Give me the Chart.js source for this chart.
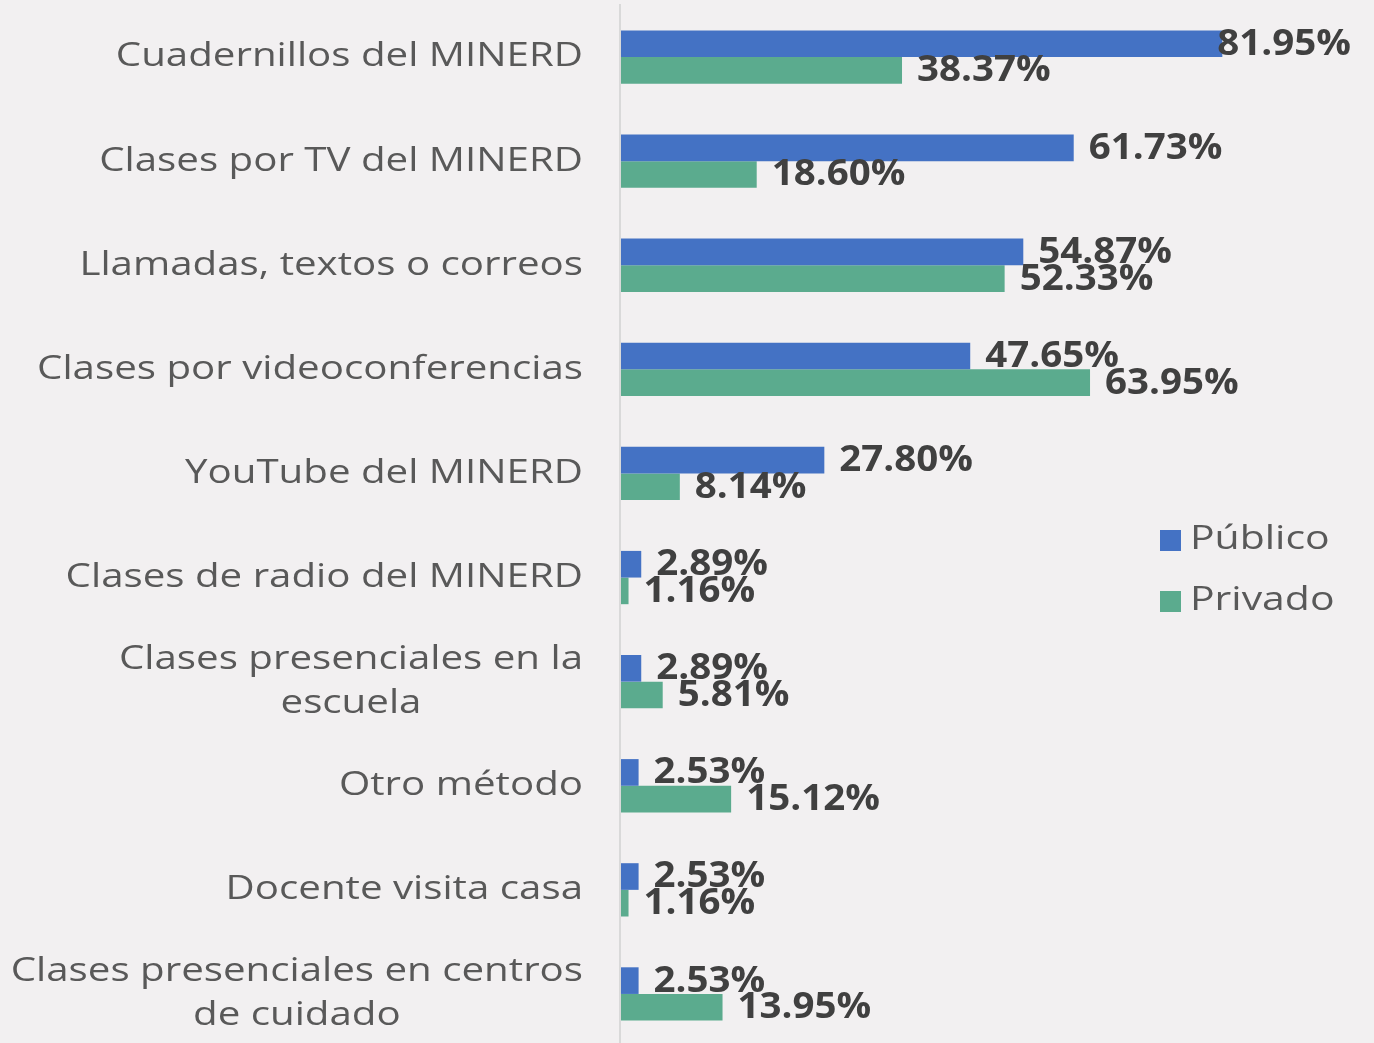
<!DOCTYPE html>
<html>
<head>
<meta charset="utf-8">
<script src="https://cdn.jsdelivr.net/npm/chart.js@4.4.0/dist/chart.umd.min.js"></script>
<style>
  html, body { margin: 0; padding: 0; background: #F2F0F1; overflow: hidden; }
  #wrap { width: 1374px; height: 1048px; position: relative; }
</style>
</head>
<body>
<div id="wrap"><canvas id="myChart" width="1374" height="1048"></canvas></div>
<script>
// Categorías (de arriba hacia abajo)
var categorias = [
    ['Cuadernillos del MINERD'],
    ['Clases por TV del MINERD'],
    ['Llamadas, textos o correos'],
    ['Clases por videoconferencias'],
    ['YouTube del MINERD'],
    ['Clases de radio del MINERD'],
    ['Clases presenciales en la', 'escuela'],
    ['Otro método'],
    ['Docente visita casa'],
    ['Clases presenciales en centros', 'de cuidado']
];

// Valores por sector (%)
var publico = [81.95, 61.73, 54.87, 47.65, 27.80, 2.89, 2.89, 2.53, 2.53, 2.53];
var privado = [38.37, 18.60, 52.33, 63.95, 8.14, 1.16, 5.81, 15.12, 1.16, 13.95];

var etiquetasSerie = ['Público', 'Privado'];
var colores = ['#4472C4', '#5BAB8E'];

var fuente = '"Open Sans", sans-serif';

// Texto estirado en horizontal (la fuente original es más ancha)
function textoAncho(ctx, txt, x, y, sx) {
    ctx.save();
    ctx.translate(x, y);
    ctx.scale(sx, 1);
    ctx.fillText(txt, 0, 0);
    ctx.restore();
}

// Etiquetas del eje Y dibujadas a mano (bloque alineado a la derecha, líneas centradas)
var ejeYPlugin = {
    id: 'ejeY',
    afterDraw: function(chart) {
        var ctx = chart.ctx;
        var y = chart.scales.y;
        var sx = 1.22;
        ctx.save();
        ctx.font = '33px ' + fuente;
        ctx.fillStyle = '#595959';
        ctx.textBaseline = 'middle';
        ctx.textAlign = 'center';
        var derecha = 583;
        var alto = 44;
        categorias.forEach(function(lineas, i) {
            var cy = y.getPixelForValue(i);
            var ancho = 0;
            lineas.forEach(function(l) { ancho = Math.max(ancho, ctx.measureText(l).width * sx); });
            var cx = derecha - ancho / 2;
            var y0 = cy - (lineas.length - 1) * alto / 2;
            lineas.forEach(function(l, k) {
                textoAncho(ctx, l, cx, y0 + k * alto, sx);
            });
        });
        // línea del eje
        ctx.strokeStyle = '#D9D9D9';
        ctx.lineWidth = 2;
        ctx.beginPath();
        ctx.moveTo(chart.chartArea.left, 4);
        ctx.lineTo(chart.chartArea.left, 1048);
        ctx.stroke();
        ctx.restore();
    }
};

// Etiquetas de datos
var etiquetasPlugin = {
    id: 'etiquetas',
    afterDatasetsDraw: function(chart) {
        var ctx = chart.ctx;
        var sx = 1.1;
        ctx.save();
        ctx.font = 'bold 35px ' + fuente;
        ctx.fillStyle = '#404040';
        ctx.textBaseline = 'middle';
        ctx.textAlign = 'left';
        chart.data.datasets.forEach(function(ds, d) {
            chart.getDatasetMeta(d).data.forEach(function(bar, i) {
                var txt = ds.data[i].toFixed(2) + '%';
                var w = ctx.measureText(txt).width * sx;
                var x = Math.min(bar.x + 15, 1351 - w);
                textoAncho(ctx, txt, x, bar.y + 1, sx);
            });
        });
        ctx.restore();
    }
};

// Leyenda a la derecha
var leyendaPlugin = {
    id: 'leyenda',
    afterDraw: function(chart) {
        var ctx = chart.ctx;
        ctx.save();
        ctx.font = '33px ' + fuente;
        ctx.textBaseline = 'middle';
        ctx.textAlign = 'left';
        var ys = [540, 601];
        chart.data.datasets.forEach(function(ds, d) {
            ctx.fillStyle = ds.backgroundColor;
            ctx.fillRect(1160, ys[d] - 10, 21, 21);
            ctx.fillStyle = '#595959';
            textoAncho(ctx, ds.label, 1190, ys[d], 1.24);
        });
        ctx.restore();
    }
};

var ctx = document.getElementById('myChart').getContext('2d');
var myChart = new Chart(ctx, {
    type: 'bar',
    data: {
        labels: categorias.map(function(c) { return c.join(' '); }),
        datasets: [{
            label: etiquetasSerie[0],
            data: publico,
            backgroundColor: colores[0]
        }, {
            label: etiquetasSerie[1],
            data: privado,
            backgroundColor: colores[1]
        }]
    },
    options: {
        indexAxis: 'y',
        responsive: false,
        animation: false,
        barPercentage: 1,
        categoryPercentage: 0.512,
        layout: {
            padding: { left: 620, right: 19, top: 5, bottom: 2 }
        },
        plugins: {
            legend: { display: false },
            tooltip: { enabled: false }
        },
        scales: {
            x: { display: false, min: 0, max: 100 },
            y: { display: false }
        }
    },
    plugins: [ejeYPlugin, etiquetasPlugin, leyendaPlugin]
});
</script>
</body>
</html>
